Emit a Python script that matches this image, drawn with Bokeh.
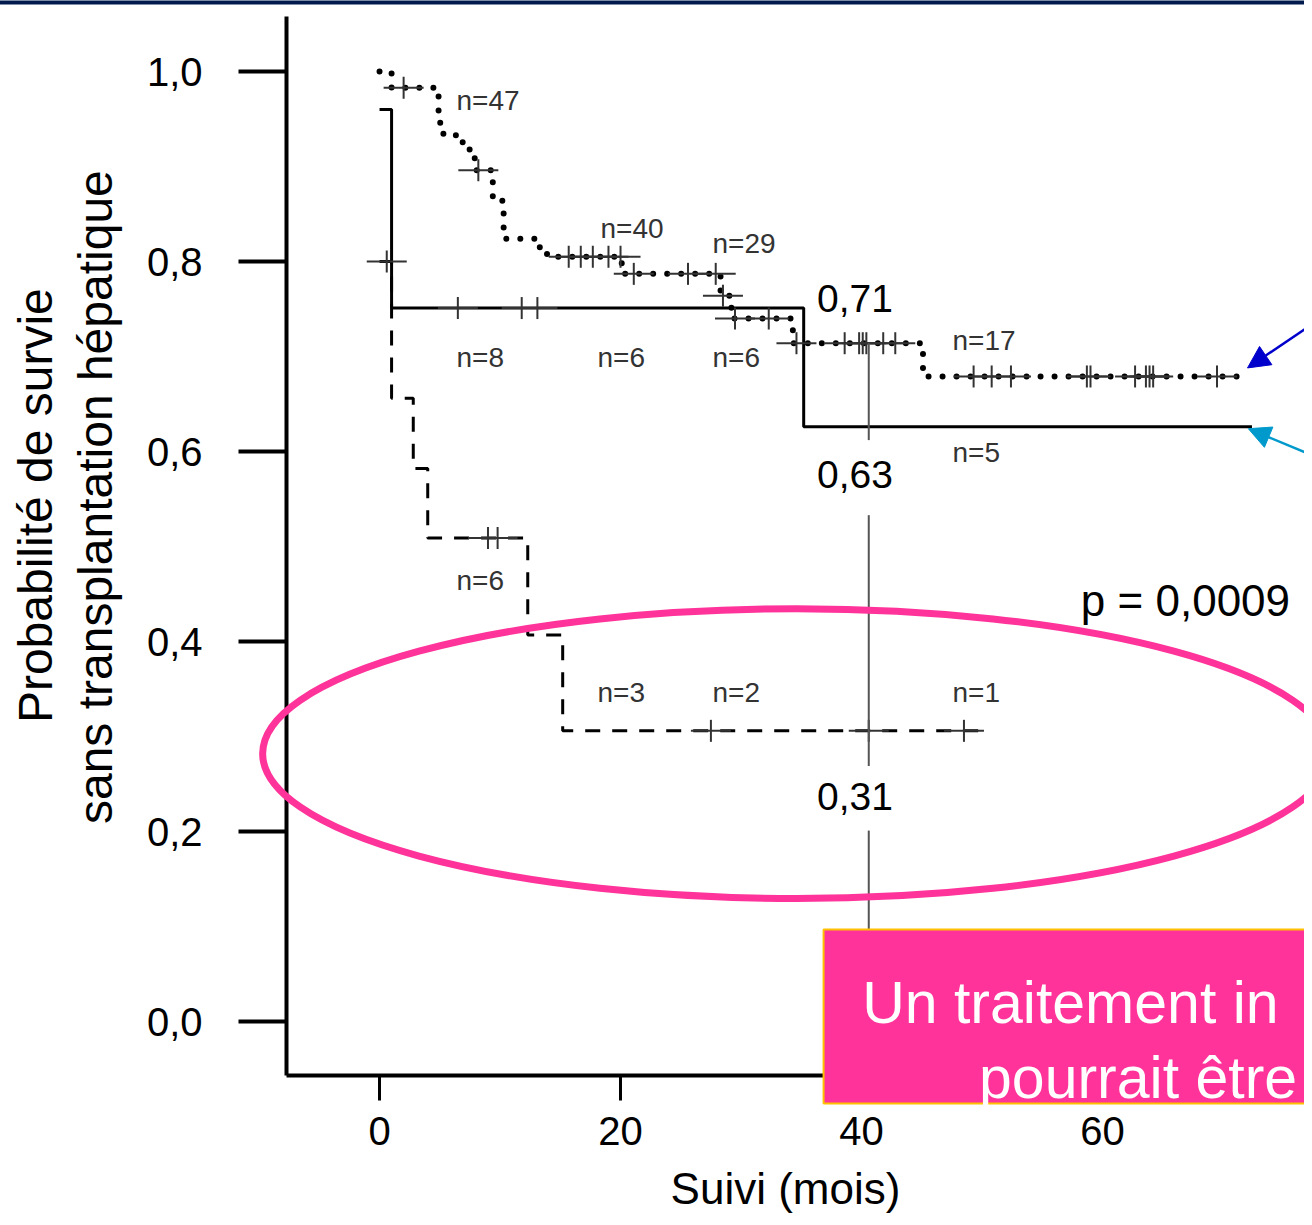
import math
from bokeh.plotting import figure
from bokeh.models import FixedTicker, Arrow, NormalHead
from bokeh.embed import file_html
from bokeh.resources import INLINE
from bokeh.core.properties import value

FONT = "Liberation Sans"

# ---------------- data ----------------
# x axis: follow-up in months; y axis: survival probability
x_ticks = [0, 20, 40, 60]
x_tick_labels = ["0", "20", "40", "60"]
y_ticks = [0.0, 0.2, 0.4, 0.6, 0.8, 1.0]
y_tick_labels = ["0,0", "0,2", "0,4", "0,6", "0,8", "1,0"]

# dotted curve (n=47 group): step times and survival after each step
dotted_t = [0, 1.0, 4.9, 5.3, 6.9, 7.9, 9.4, 10.3, 13.3, 13.9, 20.1, 28.3, 29.2, 34.3, 45.1]
dotted_s = [1.0, 0.983, 0.946, 0.933, 0.918, 0.896, 0.864, 0.824, 0.815, 0.805, 0.787, 0.764, 0.740, 0.714, 0.679]
dotted_end = 71.9
dotted_cens_t = [2.0, 8.2, 15.7, 16.7, 17.7, 19.0, 20.0, 21.1, 25.6, 27.9, 28.5, 29.5, 32.3,
                 34.6, 38.6, 39.8, 40.1, 40.4, 41.8, 42.8,
                 49.3, 50.8, 52.4, 58.7, 59.0, 62.7, 63.6, 63.9, 64.2, 69.5]
dotted_cens_s = [0.983, 0.896, 0.805, 0.805, 0.805, 0.805, 0.805, 0.787, 0.787, 0.787, 0.764, 0.740, 0.740,
                 0.714, 0.714, 0.714, 0.714, 0.714, 0.714, 0.714,
                 0.679, 0.679, 0.679, 0.679, 0.679, 0.679, 0.679, 0.679, 0.679, 0.679]

# solid curve (n=8 group)
solid_t = [0, 1.0, 35.2]
solid_s = [0.96, 0.751, 0.626]
solid_end = 72.4
solid_cens_t = [6.5, 11.8, 13.1]
solid_cens_s = [0.751, 0.751, 0.751]

# dashed curve (n=6 group)
dashed_t = [0, 1.0, 2.8, 4.0, 12.3, 15.2]
dashed_s = [0.80, 0.656, 0.582, 0.509, 0.407, 0.306]
dashed_end = 50.5
dashed_cens_t = [0.6, 9.0, 9.8, 27.5, 40.6, 48.5]
dashed_cens_s = [0.80, 0.509, 0.509, 0.306, 0.306, 0.306]

# numbers at risk labels
nrisk_text = ["n=47", "n=40", "n=29", "n=8", "n=6", "n=6", "n=17", "n=5", "n=6", "n=3", "n=2", "n=1"]
nrisk_t = [6.39, 18.34, 27.63, 6.39, 18.09, 27.63, 47.55, 47.55, 6.39, 18.09, 27.63, 47.55]
nrisk_s = [0.970, 0.835, 0.819, 0.699, 0.699, 0.699, 0.717, 0.599, 0.464, 0.346, 0.346, 0.346]

# survival values read at 40 months
at40_text = ["0,71", "0,63", "0,31"]
at40_t = [36.3, 36.3, 36.3]
at40_s = [0.761, 0.576, 0.237]
at40_line_t = 40.6
at40_seg_top = [0.714, 0.533, 0.201]
at40_seg_bot = [0.612, 0.269, 0.090]

pvalue_text = "p = 0,0009"
y_title_lines = ["Probabilité de survie", "sans transplantation hépatique"]
x_title = "Suivi (mois)"
box_lines = ["Un traitement in", "pourrait être"]

# ---------------- figure ----------------
p = figure(width=1304, height=1217, output_backend="svg", toolbar_location=None,
           x_range=(-7.72, 76.76), y_range=(-0.0568, 1.0579),
           min_border_left=286, min_border_right=0, min_border_top=16, min_border_bottom=142)
p.outline_line_color = None
p.grid.visible = False
p.background_fill_color = "white"
p.border_fill_color = "white"

xa = p.xaxis[0]
ya = p.yaxis[0]
xa.ticker = FixedTicker(ticks=x_ticks)
ya.ticker = FixedTicker(ticks=y_ticks)
xa.major_label_overrides = {v: l for v, l in zip(x_ticks, x_tick_labels)}
ya.major_label_overrides = {v: l for v, l in zip(y_ticks, y_tick_labels)}
for ax in (xa, ya):
    ax.axis_line_width = 4
    ax.axis_line_color = "black"
    ax.major_tick_line_color = "black"
    ax.minor_tick_line_color = None
    ax.major_tick_in = 0
    ax.major_label_text_font = FONT
    ax.major_label_text_font_size = "40px"
    ax.major_label_text_color = "black"
xa.major_tick_out = 25
xa.major_tick_line_width = 3
xa.major_label_standoff = 16
ya.major_tick_out = 48
ya.major_tick_line_width = 4
ya.major_label_standoff = 36

# curves
p.step(x=dotted_t + [dotted_end], y=dotted_s + [dotted_s[-1]], mode="after",
       line_color="black", line_width=6, line_dash="0 14", line_cap="round")
p.step(x=solid_t + [solid_end], y=solid_s + [solid_s[-1]], mode="after",
       line_color="black", line_width=3)
p.step(x=dashed_t + [dashed_end], y=dashed_s + [dashed_s[-1]], mode="after",
       line_color="black", line_width=3, line_dash="15 12")

# censor marks "+"
cens_t = dotted_cens_t + solid_cens_t + dashed_cens_t
cens_s = dotted_cens_s + solid_cens_s + dashed_cens_s
p.scatter(x=cens_t, y=cens_s, marker="dash", size=40, line_color="#333333", line_width=2)
p.scatter(x=cens_t, y=cens_s, marker="dash", size=22, angle=math.pi / 2,
          line_color="#333333", line_width=2)

# vertical reference line at 40 months
p.segment(x0=[at40_line_t] * 3, y0=at40_seg_top, x1=[at40_line_t] * 3, y1=at40_seg_bot,
          line_color="#555555", line_width=2)

# labels
p.text(x=nrisk_t, y=nrisk_s, text=nrisk_text, text_font=value(FONT), text_font_size="28px",
       text_color="#333333", text_align="left", text_baseline="middle")
p.text(x=at40_t, y=at40_s, text=at40_text, text_font=value(FONT), text_font_size="39px",
       text_color="black", text_align="left", text_baseline="middle")
p.text(x=[58.2], y=[0.443], text=[pvalue_text], text_font=value(FONT), text_font_size="44px",
       text_color="black", text_align="left", text_baseline="middle")

# axis titles (drawn as overlay text so they may sit outside the frame)
p.text(x=[-28.55, -23.57], y=[0.543, 0.552], text=y_title_lines, angle=math.pi / 2,
       text_font=value(FONT), text_font_size="48px", text_color="black",
       text_align="center", text_baseline="middle", level="overlay")
p.text(x=[33.69], y=[-0.1758], text=[x_title], text_font=value(FONT), text_font_size="44px",
       text_color="black", text_align="center", text_baseline="middle", level="overlay")

# highlight ellipse
p.ellipse(x=[34.6], y=[0.282], width=[88.6], height=[0.305], fill_color=None,
          line_color="#FF3399", line_width=7, level="overlay")

# arrows pointing at curve ends
p.add_layout(Arrow(end=NormalHead(size=22, fill_color="#0000CC", line_color="#0000CC"),
                   x_start=78.9, y_start=0.747, x_end=72.03, y_end=0.688,
                   line_color="#0000CC", line_width=2.5))
p.add_layout(Arrow(end=NormalHead(size=22, fill_color="#0099CC", line_color="#0099CC"),
                   x_start=78.9, y_start=0.588, x_end=72.1, y_end=0.624,
                   line_color="#0099CC", line_width=2.5))

# pink message box
p.quad(left=[36.85], right=[80.0], top=[0.0968], bottom=[-0.0863], fill_color="#FF3399",
       line_color="#FFC000", line_width=2, level="overlay")
p.text(x=[40.05, 49.75], y=[0.020, -0.059], text=box_lines,
       text_font=value(FONT), text_font_size="59px", text_color="white",
       text_align="left", text_baseline="alphabetic", level="overlay")

# navy band at top
p.quad(left=[-40.0], right=[80.0], top=[1.0747], bottom=[1.0705], fill_color="#001A4D",
       line_color=None, level="overlay")

open("out.html", "w", encoding="utf-8").write(file_html(p, INLINE))
